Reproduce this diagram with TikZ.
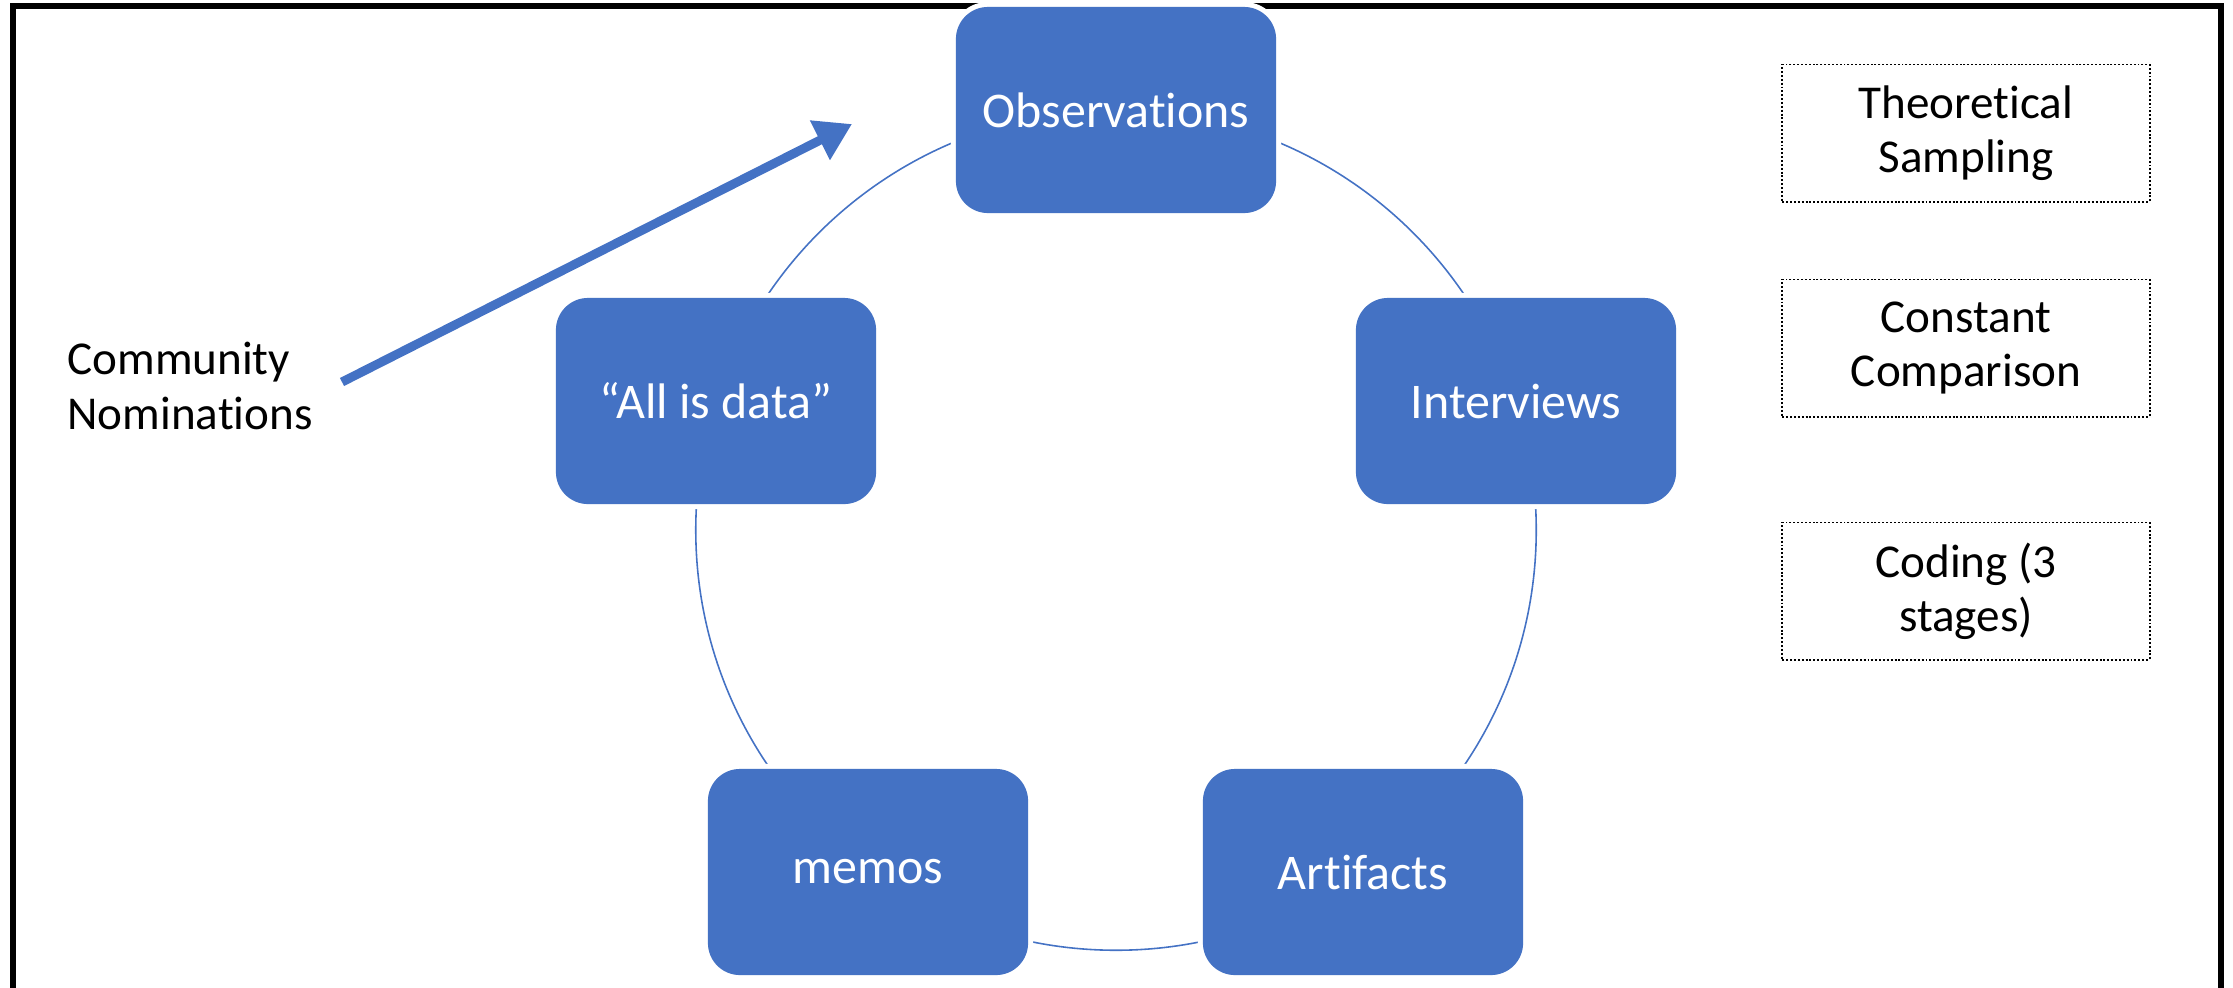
\documentclass[tikz,border=0pt]{standalone}
\usepackage{fontspec}
\setmainfont[Ligatures=NoCommon]{Carlito}
\usetikzlibrary{arrows.meta}
\definecolor{officeblue}{HTML}{4472C4}
\begin{document}
\begin{tikzpicture}[x=0.01cm,y=-0.01cm,
  stagebox/.style={rectangle, rounded corners=0.32cm, fill=officeblue,
    minimum width=3.2cm, minimum height=2.06cm, inner sep=0pt, text=white,
    font=\fontsize{14.2}{17}\selectfont,
    preaction={draw=white, line width=0.1cm}},
  notebox/.style={rectangle, draw=black, line width=0.55pt,
    dash pattern=on 0.55pt off 0.55pt, minimum width=3.67cm,
    minimum height=1.37cm, inner sep=0pt, align=center,
    font=\fontsize{13.4}{15.4}\selectfont},
  ring/.style={circle, draw=officeblue, line width=0.45pt, inner sep=0pt},
  bigarrow/.style={draw=officeblue, line width=0.09cm,
    -{Triangle[length=0.36cm, width=0.42cm]}},
]
\useasboundingbox (0,0) rectangle (2233,987);

% outer frame (bottom edge runs off the page)
\begin{scope}
  \clip (0,0) rectangle (2233,987);
  \draw[line width=0.06cm] (13,1100) -- (13,6) -- (2221,6) -- (2221,1100);
\end{scope}

% cycle ring behind the stages
\node[ring, minimum size=8.4cm] (cycle) at (1116,530) {};

% stages of the cycle
\node[stagebox] (obs) at (1116,110) {Observations};
\node[stagebox] (int) at (1516,401) {Interviews};
\node[stagebox] (art) at (1363,872) {Artifacts};
\node[stagebox] (mem) at (868,872) {memos};
\node[stagebox] (all) at (716,401) {“All is data”};

% entry point
\node[anchor=west, align=left, font=\fontsize{13.4}{15.4}\selectfont]
  (cn) at (55,386) {Community\\Nominations};
\coordinate (arrS) at (342,382);
\coordinate (arrE) at (852,124);
\draw[bigarrow] (arrS) -- (arrE);

% method notes
\node[notebox] (ts) at (1966,133) {Theoretical\\Sampling};
\node[notebox] (cc) at (1966,348) {Constant\\Comparison};
\node[notebox] (cod) at (1966,591) {Coding (3\\stages)};
\end{tikzpicture}
\end{document}
